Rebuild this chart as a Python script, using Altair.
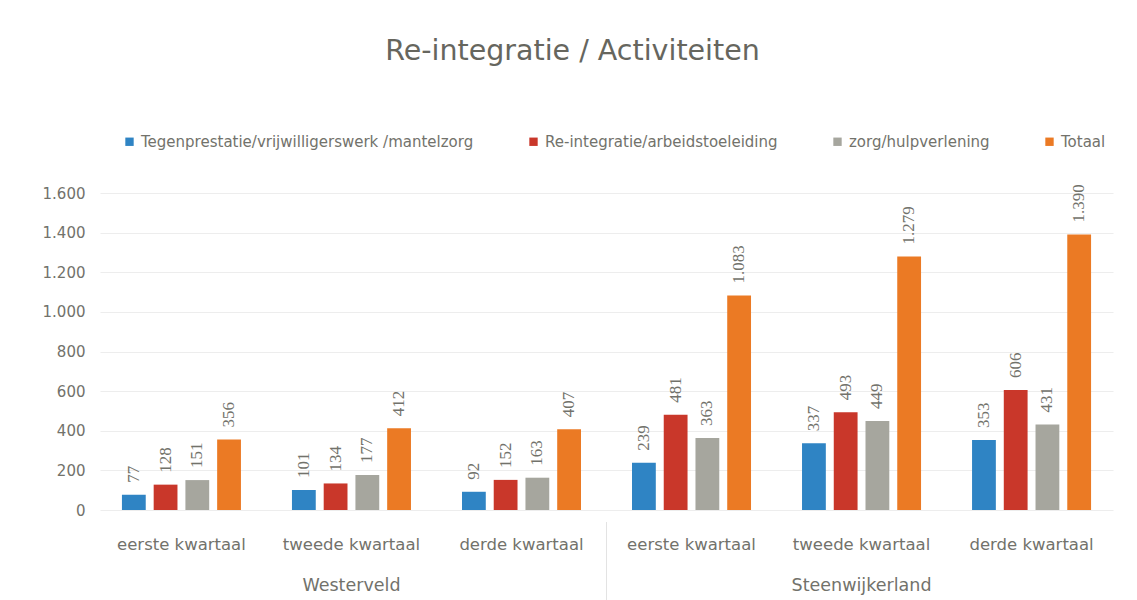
import altair as alt
import pandas as pd

groups = ["Westerveld", "Steenwijkerland"]
quarters = ["eerste kwartaal", "tweede kwartaal", "derde kwartaal"]
series = ["Tegenprestatie/vrijwilligerswerk /mantelzorg",
          "Re-integratie/arbeidstoeleiding",
          "zorg/hulpverlening",
          "Totaal"]
colors = ["#2F84C4", "#C9372A", "#A6A69E", "#EB7A24"]

# values per series, order: Westerveld q1..q3, Steenwijkerland q1..q3
tegenprestatie = [77, 101, 92, 239, 337, 353]
reintegratie = [128, 134, 152, 481, 493, 606]
zorg = [151, 177, 163, 363, 449, 431]
totaal = [356, 412, 407, 1083, 1279, 1390]
y_ticks = [0, 200, 400, 600, 800, 1000, 1200, 1400, 1600]

vals = [tegenprestatie, reintegratie, zorg, totaal]
cats = [f"{g}|{q}" for g in groups for q in quarters]

rows = []
for s, v in zip(series, vals):
    for c, x in zip(cats, v):
        rows.append({"cat": c, "series": s, "value": x})
df = pd.DataFrame(rows)

grp_df = pd.DataFrame({"group": groups, "cat": [f"{g}|tweede kwartaal" for g in groups]})
sep_df = pd.DataFrame({"cat": [f"{groups[1]}|eerste kwartaal"]})

W, H = 1013, 317
FONT = "DejaVu Sans"
NUMFONT = "Liberation Serif"
GRAY = "#72726B"
PAD = 0.3
OUTER = 0.129
STEP = W / (len(cats) - PAD + 2 * OUTER)

xscale = alt.Scale(domain=cats, paddingInner=PAD, paddingOuter=OUTER)
yscale = alt.Scale(domain=[0, 1600])
yaxis = alt.Axis(title=None, values=y_ticks,
                 labelExpr="replace(format(datum.value, ','), ',', '.')",
                 labelFont=FONT, labelFontSize=15, labelColor=GRAY,
                 labelPadding=15, ticks=False, domain=False,
                 gridColor="#EDEDED")
xaxis = alt.Axis(title=None, labelExpr="split(datum.label, '|')[1]",
                 labelAngle=0, labelFont=FONT, labelFontSize=16.5,
                 labelColor=GRAY, labelPadding=26, ticks=False,
                 domain=False, grid=False)
xoff = alt.XOffset("series:N", sort=series, scale=alt.Scale(paddingInner=0.25))

bars = alt.Chart(df).mark_bar().encode(
    x=alt.X("cat:N", scale=xscale, sort=cats, axis=xaxis),
    xOffset=xoff,
    y=alt.Y("value:Q", scale=yscale, axis=yaxis),
    color=alt.Color("series:N", sort=series,
                    scale=alt.Scale(domain=series, range=colors),
                    legend=alt.Legend(title=None, orient="none", direction="horizontal",
                                      legendX=22, legendY=-59, symbolType="square",
                                      symbolSize=70, labelFont=FONT, labelFontSize=15,
                                      labelColor=GRAY, labelLimit=500,
                                      columnPadding=52, symbolOffset=0)),
)

labels = alt.Chart(df).transform_calculate(
    lab="replace(format(datum.value, ','), ',', '.')"
).mark_text(angle=270, align="left", baseline="middle", dx=12,
            font=NUMFONT, fontSize=17, color=GRAY).encode(
    x=alt.X("cat:N", scale=xscale, sort=cats, axis=xaxis),
    xOffset=xoff,
    y=alt.Y("value:Q", scale=yscale, axis=yaxis),
    text="lab:N",
)

grp_text = alt.Chart(grp_df).mark_text(font=FONT, fontSize=17.5, color=GRAY,
                                        baseline="middle").encode(
    x=alt.X("cat:N", scale=xscale, sort=cats, axis=xaxis),
    y=alt.value(H + 76),
    text="group:N",
)

sep = alt.Chart(sep_df).mark_rule(color="#E3E3E3", strokeWidth=1,
                                  xOffset=-PAD * STEP / 2).encode(
    x=alt.X("cat:N", scale=xscale, sort=cats, bandPosition=0, axis=xaxis),
    y=alt.value(H + 12),
    y2=alt.value(H + 92),
)

chart = alt.layer(bars, labels, grp_text, sep).properties(
    width=W, height=H,
    view=alt.ViewBackground(stroke="transparent", strokeWidth=0),
    title=alt.Title("Re-integratie / Activiteiten", font=FONT, fontSize=28.5,
                    fontWeight="normal", color="#66665E", anchor="middle",
                    offset=69, dx=-34),
    autosize=alt.AutoSizeParams(type="none"),
    padding={"left": 92, "top": 185, "right": 7, "bottom": 90},
).configure_view(stroke="transparent", strokeWidth=0, strokeOpacity=0
).configure_axisX(grid=False).configure(background="white")

chart.save("out.html", embed_options={"renderer": "svg", "actions": False})
